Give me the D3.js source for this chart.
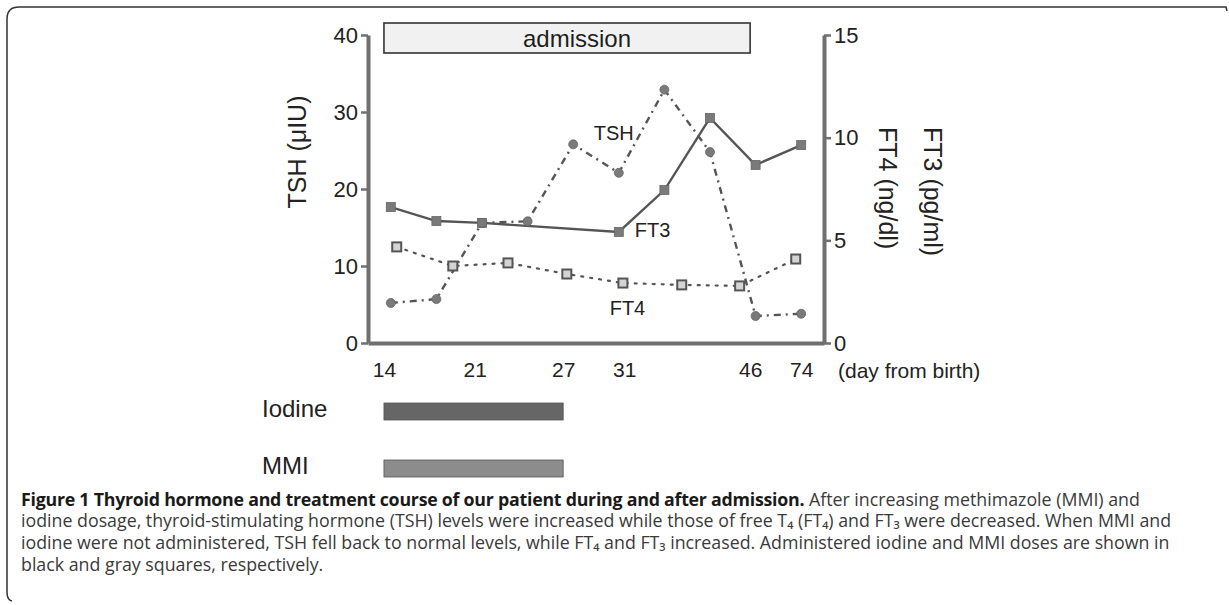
<!DOCTYPE html>
<html>
<head>
<meta charset="utf-8">
<script src="https://d3js.org/d3.v7.min.js"></script>
<style>
  body { margin: 0; background: #fff; }
  svg { display: block; }
</style>
</head>
<body>
<script>
// data
// TSH (left axis, µIU) and FT3 (right axis, pg/ml) share sample slots 0..9
var tshIdx = [0, 1, 2, 3, 4, 5, 6, 7, 8, 9];
var tshVals = [5.2, 5.7, 15.6, 15.8, 25.8, 22.1, 32.9, 24.8, 3.5, 3.8];
var ft3Idx = [0, 1, 2, 5, 6, 7, 8, 9];
var ft3Vals = [6.62, 5.94, 5.85, 5.41, 7.45, 10.96, 8.67, 9.64];
// FT4 (right axis, ng/dl) was sampled at its own slots
var ft4Idx = [0.13, 1.36, 2.57, 3.86, 5.09, 6.38, 7.65, 8.88];
var ft4Vals = [4.68, 3.75, 3.90, 3.36, 2.92, 2.83, 2.78, 4.09];

// x tick labels (day from birth) and where they sit in slot units
var xTickLabels = ["14", "21", "27", "31", "46", "74"];
var xTickPos = [-0.15, 1.84, 3.78, 5.12, 7.88, 9.0];
var leftTicks = [0, 10, 20, 30, 40];
var rightTicks = [0, 5, 10, 15];

// periods (days)
var admission = [14, 46];
var iodine = [14, 27];
var mmi = [14, 27];

var width = 1229, height = 605;
var svg = d3.select("body").append("svg")
  .attr("width", width)
  .attr("height", height);

var FONT = "'Liberation Sans', Arial, Helvetica, sans-serif";
var AXC = "#6f6f6f";
var LINEC = "#555";
var MARKC = "#7a7a7a";

//scales
var xs = d3.scaleLinear().domain([-0.5, 9.5]).range([368, 824]);
var dayPos = d3.scaleLinear().domain(xTickLabels.map(Number)).range(xTickPos);
var yL = d3.scaleLinear().domain([0, 40]).range([343, 35]);
var yR = d3.scaleLinear().domain([0, 15]).range([343, 35]);

// frame
svg.append("path")
  .attr("d", "M1227,11 L1226,7 L19,7 Q7,7 7,19 L7,592 Q7,600 12,601")
  .attr("fill", "none").attr("stroke", "#333").attr("stroke-width", 1.5);

// admission box
var adm = svg.append("g");
adm.append("rect")
  .attr("x", xs(dayPos(admission[0])))
  .attr("y", 23)
  .attr("width", xs(dayPos(admission[1])) - xs(dayPos(admission[0])))
  .attr("height", 30)
  .attr("fill", "#f1f1f1")
  .attr("stroke", "#333").attr("stroke-width", 1.6);
adm.append("text")
  .attr("x", 577).attr("y", 47)
  .attr("text-anchor", "middle")
  .attr("font-family", FONT).attr("font-size", 24).attr("fill", "#1e1e1e")
  .text("admission");

// axes
function styleAxis(g) {
  g.select(".domain").attr("stroke", AXC).attr("stroke-width", 4);
  g.selectAll(".tick line").attr("stroke", AXC).attr("stroke-width", 2.5);
  g.selectAll(".tick text").attr("fill", "#222").attr("font-family", FONT);
}

var gx = svg.append("g")
  .attr("transform", "translate(0,343)")
  .call(d3.axisBottom(xs).tickValues(xTickPos)
    .tickFormat(function(d, i){ return xTickLabels[i]; })
    .tickSize(0).tickPadding(19));
styleAxis(gx);
gx.selectAll(".tick text").attr("font-size", 21);

var gl = svg.append("g")
  .attr("transform", "translate(368,0)")
  .call(d3.axisLeft(yL).tickValues(leftTicks).tickSize(7).tickSizeOuter(0).tickPadding(3));
styleAxis(gl);
gl.selectAll(".tick text").attr("font-size", 22);

var gr = svg.append("g")
  .attr("transform", "translate(824,0)")
  .call(d3.axisRight(yR).tickValues(rightTicks).tickSize(7).tickSizeOuter(0).tickPadding(3));
styleAxis(gr);
gr.selectAll(".tick text").attr("font-size", 22);

svg.append("text")
  .attr("x", 838).attr("y", 378)
  .attr("font-family", FONT).attr("font-size", 21).attr("fill", "#222")
  .text("(day from birth)");

// axis titles
svg.append("text")
  .attr("transform", "translate(297,152) rotate(-90)")
  .attr("text-anchor", "middle").attr("dominant-baseline", "central")
  .attr("font-family", FONT).attr("font-size", 25).attr("fill", "#222")
  .text("TSH (\u03BCIU)");
svg.append("text")
  .attr("transform", "translate(888,127) rotate(90)")
  .attr("dominant-baseline", "central")
  .attr("font-family", FONT).attr("font-size", 25).attr("fill", "#222")
  .text("FT4 (ng/dl)");
svg.append("text")
  .attr("transform", "translate(933,127) rotate(90)")
  .attr("dominant-baseline", "central")
  .attr("font-family", FONT).attr("font-size", 25).attr("fill", "#222")
  .text("FT3 (pg/ml)");

// lines
var tsh = tshIdx.map(function(d, i){ return [d, tshVals[i]]; });
var ft3 = ft3Idx.map(function(d, i){ return [d, ft3Vals[i]]; });
var ft4 = ft4Idx.map(function(d, i){ return [d, ft4Vals[i]]; });

var lineL = d3.line().x(function(d){ return xs(d[0]); }).y(function(d){ return yL(d[1]); });
var lineR = d3.line().x(function(d){ return xs(d[0]); }).y(function(d){ return yR(d[1]); });

svg.append("path").datum(ft4).attr("d", lineR)
  .attr("fill", "none").attr("stroke", LINEC).attr("stroke-width", 2.2)
  .attr("stroke-dasharray", "2,7").attr("stroke-linecap", "round");
svg.append("path").datum(ft3).attr("d", lineR)
  .attr("fill", "none").attr("stroke", LINEC).attr("stroke-width", 2.4);
svg.append("path").datum(tsh).attr("d", lineL)
  .attr("fill", "none").attr("stroke", LINEC).attr("stroke-width", 2.4)
  .attr("stroke-dasharray", "7,5,2,5");

// markers
svg.append("g").selectAll("rect").data(ft3).enter().append("rect")
  .attr("x", function(d){ return xs(d[0]) - 4.5; })
  .attr("y", function(d){ return yR(d[1]) - 4.5; })
  .attr("width", 9).attr("height", 9)
  .attr("fill", MARKC).attr("stroke", "#666").attr("stroke-width", 0.8);

svg.append("g").selectAll("rect").data(ft4).enter().append("rect")
  .attr("x", function(d){ return xs(d[0]) - 4.5; })
  .attr("y", function(d){ return yR(d[1]) - 4.5; })
  .attr("width", 9).attr("height", 9)
  .attr("fill", "#d4d4d4").attr("stroke", "#555").attr("stroke-width", 2);

svg.append("g").selectAll("circle").data(tsh).enter().append("circle")
  .attr("cx", function(d){ return xs(d[0]); })
  .attr("cy", function(d){ return yL(d[1]); })
  .attr("r", 4.5)
  .attr("fill", MARKC).attr("stroke", "#666").attr("stroke-width", 0.8);

// series labels
function seriesLabel(txt, xi, y) {
  svg.append("text").attr("x", xs(xi)).attr("y", y)
    .attr("font-family", FONT).attr("font-size", 20).attr("fill", "#222")
    .text(txt);
}
seriesLabel("TSH", 4.45, yL(26.4));
seriesLabel("FT3", 5.35, yR(5.15));
seriesLabel("FT4", 4.8, yR(1.37));

// treatment bars
var bars = [
  { name: "Iodine", span: iodine, y: 403, color: "#666" },
  { name: "MMI", span: mmi, y: 460, color: "#8c8c8c" }
];
var gb = svg.append("g");
gb.selectAll("rect").data(bars).enter().append("rect")
  .attr("x", function(d){ return xs(dayPos(d.span[0])); })
  .attr("y", function(d){ return d.y; })
  .attr("width", function(d){ return xs(dayPos(d.span[1])) - xs(dayPos(d.span[0])); })
  .attr("height", 17)
  .attr("fill", function(d){ return d.color; })
  .attr("stroke", "#555").attr("stroke-width", 0.8);
gb.selectAll("text").data(bars).enter().append("text")
  .attr("x", 262)
  .attr("y", function(d){ return d.y + 14; })
  .attr("font-family", FONT).attr("font-size", 24).attr("fill", "#222")
  .text(function(d){ return d.name; });

// caption (subscripts as unicode digits so each line stays one run)
var capLines = [
  [{ t: "Figure 1 Thyroid hormone and treatment course of our patient during and after admission.", b: true },
   { t: " After increasing methimazole (MMI) and" }],
  [{ t: "iodine dosage, thyroid-stimulating hormone (TSH) levels were increased while those of free T\u2084 (FT\u2084) and FT\u2083 were decreased. When MMI and" }],
  [{ t: "iodine were not administered, TSH fell back to normal levels, while FT\u2084 and FT\u2083 increased. Administered iodine and MMI doses are shown in" }],
  [{ t: "black and gray squares, respectively." }]
];
var cap = svg.append("g")
  .attr("font-family", "'Open Sans', 'Noto Sans', sans-serif")
  .attr("font-size", 15).attr("fill", "#3a3a3a");
var capTexts = [];
capLines.forEach(function(line, li) {
  var t = cap.append("text").attr("x", 21).attr("y", 505.5 + li * 21.8);
  line.forEach(function(seg) {
    var ts = t.append("tspan").text(seg.t);
    if (seg.b) ts.attr("font-weight", "bold").attr("fill", "#1a1a1a").attr("letter-spacing", -0.25);
  });
  capTexts.push(t);
});
// fit caption width to the printed line length
var w2 = capTexts[1].node().getComputedTextLength();
cap.attr("font-size", 15 * 1151 / w2);
</script>
</body>
</html>
